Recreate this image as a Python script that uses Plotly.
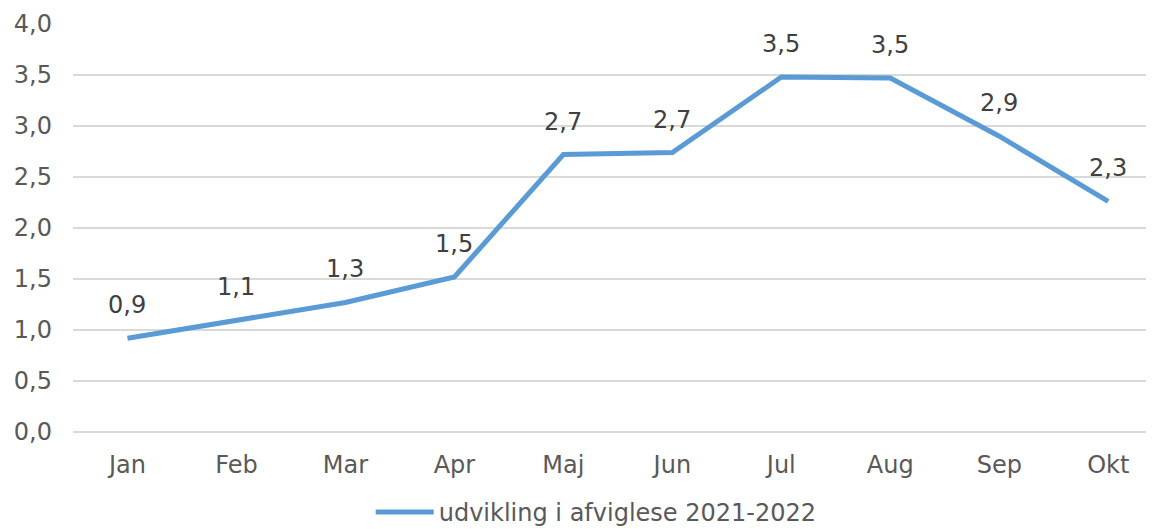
import plotly.graph_objects as go

months = ["Jan", "Feb", "Mar", "Apr", "Maj", "Jun", "Jul", "Aug", "Sep", "Okt"]
values = [0.92, 1.10, 1.27, 1.52, 2.72, 2.74, 3.48, 3.47, 2.90, 2.26]
series_name = "udvikling i afviglese 2021-2022"

y_ticks = [0, 0.5, 1, 1.5, 2, 2.5, 3, 3.5, 4]
y_ticktext = [f"{t:.1f}".replace(".", ",") for t in y_ticks]

fig = go.Figure()
fig.add_scatter(x=months, y=values, mode="lines", name=series_name,
                line=dict(color="#5B9BD5", width=5))

# data labels above each point
for m, v in zip(months, values):
    fig.add_annotation(x=m, y=v, text=f"{v:.1f}".replace(".", ","),
                       showarrow=False, yshift=33,
                       font=dict(size=24, color="#404040"))

fig.update_layout(
    width=1146, height=521,
    margin=dict(l=65, r=0, t=16, b=97),
    plot_bgcolor="white", paper_bgcolor="white",
    font=dict(family="DejaVu Sans", size=24, color="#595959"),
    showlegend=True,
    legend=dict(orientation="h", x=0.484, xanchor="center",
                yref="container", y=0.032, yanchor="middle",
                font=dict(size=24, color="#595959"), itemwidth=58),
    xaxis=dict(range=[-0.5, 9.42], showgrid=False, showline=False,
               ticks="", ticklabelstandoff=16),
    yaxis=dict(range=[0, 4], tickvals=y_ticks, ticktext=y_ticktext,
               gridcolor="#D9D9D9", gridwidth=1.5, zeroline=True,
               zerolinecolor="#D9D9D9", zerolinewidth=1.5,
               showline=False, ticks="", ticklabelstandoff=20),
)

fig.write_html("out.html")
